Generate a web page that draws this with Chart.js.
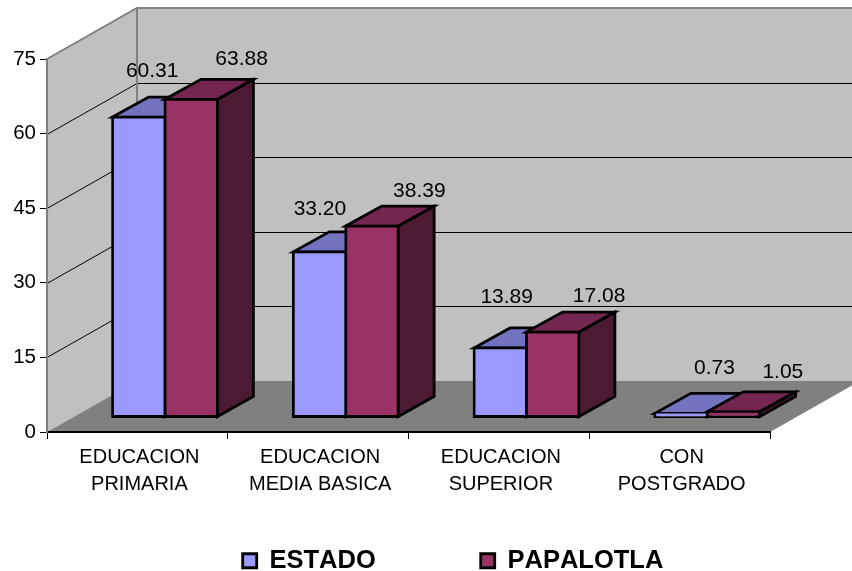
<!DOCTYPE html>
<html>
<head>
<meta charset="utf-8">
<title>Educacion</title>
<script src="https://cdn.jsdelivr.net/npm/chart.js@4"></script>
<style>
    html, body { margin: 0; padding: 0; background: #fff; overflow: hidden; }
    canvas { display: block; }
</style>
</head>
<body>
<canvas id="chart" width="852" height="571"></canvas>
<script>
    const categories = [
        ['EDUCACION', 'PRIMARIA'],
        ['EDUCACION', 'MEDIA BASICA'],
        ['EDUCACION', 'SUPERIOR'],
        ['CON', 'POSTGRADO']
    ];
    const estado = [60.31, 33.20, 13.89, 0.73];
    const papalotla = [63.88, 38.39, 17.08, 1.05];
    const yTicks = [0, 15, 30, 45, 60, 75];

    // Fake 3D depth, in pixels
    const WALL_DX = 90, WALL_DY = -51;    // back wall from the front axis plane
    const BAR_DX = 27.6, BAR_DY = -15;    // front of the bars from the front axis plane
    const SIDE_DX = 36, SIDE_DY = -20;    // depth of a bar
    const BAR_LINE = 2.8;

    // Where each value label sits, measured from the bar end
    const labelNudge = [
        [[41, -61], [28, -58], [34, -66], [61, -60]],
        [[78, -55], [75, -50], [74, -51], [77, -55]]
    ];

    const faces = [
        { front: '#9999FF', top: '#7373BF', side: '#4D4D80' },
        { front: '#993366', top: '#732650', side: '#4D1A33' }
    ];

    const FONT = "'Liberation Sans', Arial, sans-serif";

    function poly(ctx, pts, fill, stroke, width) {
        ctx.beginPath();
        pts.forEach((p, i) => i ? ctx.lineTo(p[0], p[1]) : ctx.moveTo(p[0], p[1]));
        ctx.closePath();
        if (fill) {
            ctx.fillStyle = fill;
            ctx.fill();
        }
        if (stroke) {
            ctx.strokeStyle = stroke;
            ctx.lineWidth = width;
            ctx.lineJoin = 'miter';
            ctx.stroke();
        }
    }

    const depthPlugin = {
        id: 'depth',
        afterInit(chart) {
            // labels.padding is also used vertically by the legend, so its height is set by hand
            const legend = chart.legend;
            const fit = legend.fit, draw = legend.draw;
            legend.fit = function () {
                chart.ctx.fontKerning = 'none';
                fit.call(this);
                chart.ctx.fontKerning = 'auto';
                this.height = 49;
            };
            legend.draw = function () {
                chart.ctx.fontKerning = 'none';
                draw.call(this);
                chart.ctx.fontKerning = 'auto';
            };
        },
        afterLayout(chart) {
            // legend is centred on the whole picture, not on the plot
            const legend = chart.legend;
            legend.left += 68;
            legend.right += 68;
            legend.top = 443;
        },
        beforeDraw(chart) {
            // walls, floor and the gridlines on them
            const ctx = chart.ctx;
            const { left, right, top, bottom } = chart.chartArea;
            const y = chart.scales.y;
            const bx = left + WALL_DX;
            poly(ctx, [[left, bottom], [bx, bottom + WALL_DY], [bx, top + WALL_DY], [left, top]], '#C0C0C0');
            poly(ctx, [[bx, bottom + WALL_DY], [right + WALL_DX, bottom + WALL_DY], [right + WALL_DX, top + WALL_DY], [bx, top + WALL_DY]], '#C0C0C0');
            poly(ctx, [[left, bottom], [bx, bottom + WALL_DY], [right + WALL_DX, bottom + WALL_DY], [right, bottom]], '#808080');

            ctx.strokeStyle = '#000';
            ctx.lineWidth = 1;
            yTicks.slice(1, -1).forEach(v => {
                const py = Math.round(y.getPixelForValue(v)) + 0.5;
                ctx.beginPath();
                ctx.moveTo(left, py);
                ctx.lineTo(bx, py + WALL_DY);
                ctx.lineTo(right + WALL_DX, py + WALL_DY);
                ctx.stroke();
            });

            ctx.strokeStyle = '#808080';
            ctx.lineWidth = 2;
            ctx.beginPath();
            ctx.moveTo(left, top);
            ctx.lineTo(bx, top + WALL_DY);
            ctx.lineTo(right + WALL_DX, top + WALL_DY);
            ctx.moveTo(bx, top + WALL_DY);
            ctx.lineTo(bx, bottom + WALL_DY);
            ctx.stroke();
        },
        beforeDatasetsDraw(chart) {
            // tops and sides first, the library then paints the fronts over them
            const ctx = chart.ctx;
            ctx.save();
            ctx.translate(BAR_DX, BAR_DY);
            chart.data.datasets.forEach((ds, d) => {
                chart.getDatasetMeta(d).data.forEach(bar => {
                    const l = bar.x - bar.width / 2;
                    const r = bar.x + bar.width / 2;
                    const t = bar.y;
                    const b = bar.base;
                    poly(ctx, [[r, t], [r + SIDE_DX, t + SIDE_DY], [r + SIDE_DX, b + SIDE_DY], [r, b]], faces[d].side, '#000', BAR_LINE);
                    poly(ctx, [[l, t], [l + SIDE_DX, t + SIDE_DY], [r + SIDE_DX, t + SIDE_DY], [r, t]], faces[d].top, '#000', BAR_LINE);
                });
            });
        },
        afterDatasetsDraw(chart) {
            const ctx = chart.ctx;
            ctx.restore();
            ctx.font = '21px ' + FONT;
            ctx.fillStyle = '#000';
            ctx.textAlign = 'center';
            ctx.textBaseline = 'middle';
            chart.data.datasets.forEach((ds, d) => {
                chart.getDatasetMeta(d).data.forEach((bar, i) => {
                    const n = labelNudge[d][i];
                    ctx.fillText(ds.data[i].toFixed(2), bar.x + n[0], bar.y + n[1]);
                });
            });
        }
    };

    const barStyle = {
        borderColor: '#000',
        borderWidth: BAR_LINE,
        borderSkipped: false,
        inflateAmount: BAR_LINE / 2,
        clip: false
    };

    new Chart(document.getElementById('chart'), {
        type: 'bar',
        data: {
            labels: categories,
            datasets: [
                { label: 'ESTADO', data: estado, backgroundColor: faces[0].front, ...barStyle },
                { label: 'PAPALOTLA', data: papalotla, backgroundColor: faces[1].front, ...barStyle }
            ]
        },
        options: {
            responsive: false,
            animation: false,
            events: [],
            layout: { padding: { left: 0, right: 82, top: 59, bottom: 0 } },
            datasets: { bar: { categoryPercentage: 0.58, barPercentage: 1 } },
            scales: {
                x: {
                    afterFit: s => { s.height = 90; },
                    border: { color: '#000', width: 2 },
                    grid: { drawOnChartArea: false, color: '#000', tickLength: 7 },
                    ticks: {
                        color: '#000',
                        maxRotation: 0,
                        autoSkip: false,
                        padding: 5,
                        labelOffset: 2,
                        font: { family: FONT, size: 20, lineHeight: 1.36 }
                    }
                },
                y: {
                    min: 0,
                    max: 75,
                    afterFit: s => { s.width = 47; },
                    afterBuildTicks: s => { s.ticks = yTicks.map(v => ({ value: v })); },
                    border: { color: '#808080', width: 2 },
                    grid: { drawOnChartArea: false, color: '#000', tickLength: 7 },
                    ticks: {
                        color: '#000',
                        padding: 4,
                        font: { family: FONT, size: 20.5 }
                    }
                }
            },
            plugins: {
                tooltip: { enabled: false },
                legend: {
                    position: 'bottom',
                    labels: {
                        color: '#000',
                        boxWidth: 14,
                        boxHeight: 14,
                        padding: 105,
                        font: { family: FONT, size: 25.5, weight: 'bold' }
                    }
                }
            }
        },
        plugins: [depthPlugin]
    });
</script>
</body>
</html>
